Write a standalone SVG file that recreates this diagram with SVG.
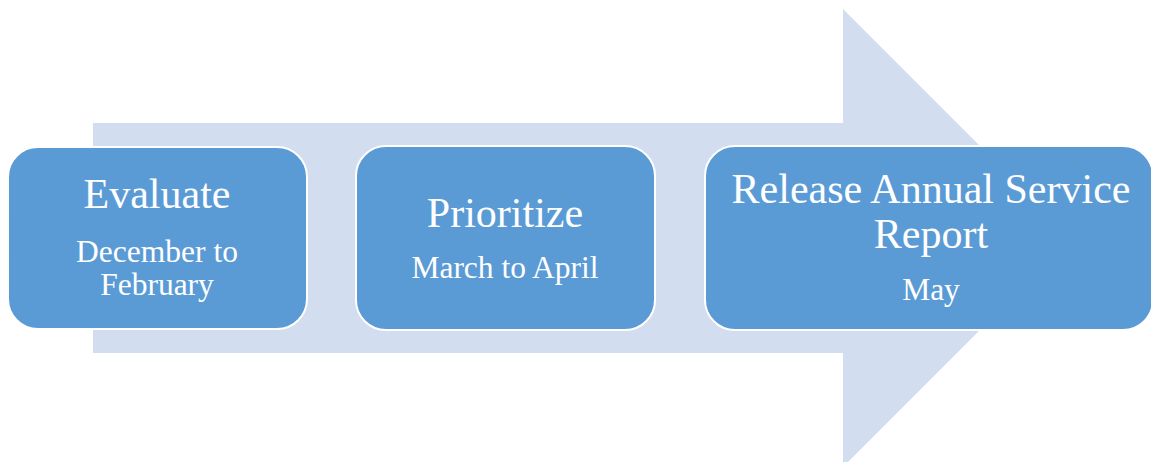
<svg xmlns="http://www.w3.org/2000/svg" width="1151" height="462" viewBox="0 0 1151 462">
  <style>
    .step { fill: #5B9BD5; stroke: #FFFFFF; stroke-width: 2; }
    .title { font-family: "Liberation Serif", "Times New Roman", serif; font-size: 42px; fill: #FFFFFF; text-anchor: middle; }
    .sub { font-family: "Liberation Serif", "Times New Roman", serif; font-size: 31.5px; fill: #FFFFFF; text-anchor: middle; }
  </style>
  <rect width="1151" height="462" fill="#FFFFFF"/>
  <!-- background process arrow -->
  <g id="connectors">
    <polygon points="93,123 843,123 843,9 1072,238 843,467 843,353 93,353" fill="#D2DEEF"/>
  </g>
  <g id="step-evaluate">
    <rect class="step" x="8" y="147" width="299" height="182" rx="30" ry="30"/>
    <text class="title" x="157" y="208">Evaluate</text>
    <text class="sub" x="157" y="262">December to</text>
    <text class="sub" x="157" y="295">February</text>
  </g>
  <g id="step-prioritize">
    <rect class="step" x="356" y="146" width="299" height="184" rx="30" ry="30"/>
    <text class="title" x="505" y="227">Prioritize</text>
    <text class="sub" x="505" y="278">March to April</text>
  </g>
  <g id="step-release">
    <rect class="step" x="705" y="146" width="448" height="184" rx="30" ry="30"/>
    <text class="title" x="931" y="203">Release Annual Service</text>
    <text class="title" x="931" y="248">Report</text>
    <text class="sub" x="931" y="300">May</text>
  </g>
</svg>
